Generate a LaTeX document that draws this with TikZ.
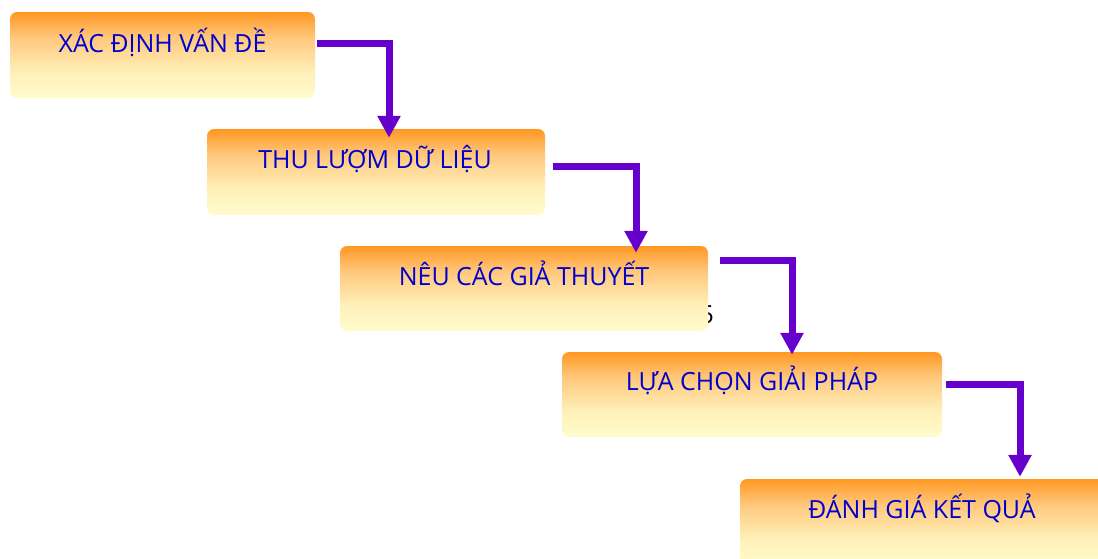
\documentclass[tikz,border=0pt]{standalone}
\usepackage{fontspec}
\setmainfont{Open Sans}
\usetikzlibrary{arrows.meta}
\definecolor{orng}{RGB}{255,152,34}
\definecolor{omid}{RGB}{255,200,125}
\definecolor{ylow}{RGB}{255,240,185}
\definecolor{lyel}{RGB}{255,252,204}
\definecolor{txtblue}{RGB}{0,0,204}
\definecolor{arrpurple}{RGB}{102,0,204}
\pgfdeclareverticalshading{boxshade}{100bp}{color(0bp)=(lyel); color(25bp)=(lyel); color(40bp)=(ylow); color(60bp)=(omid); color(75bp)=(orng); color(100bp)=(orng)}
\tikzset{
  stepbox/.style={rectangle, rounded corners=7pt, inner sep=0pt, draw=none, shading=boxshade},
  steptext/.style={anchor=base, text=txtblue, font=\fontsize{25}{30}\selectfont, inner sep=0pt},
  flowarrow/.style={draw=arrpurple, line width=7pt, -{Triangle[width=22pt,length=22pt]}}
}
\begin{document}
\begin{tikzpicture}[x=1pt,y=-1pt]
\useasboundingbox (0,0) rectangle (1098,558);
\clip (0,0) rectangle (1098,558);
\node[anchor=base east, inner sep=0pt, font=\fontsize{25}{30}\selectfont] (stray) at (714,323) {5};
\node[stepbox, minimum width=305pt, minimum height=86pt] (b1) at (162.5,55) {};
\node[stepbox, minimum width=338pt, minimum height=86pt] (b2) at (376,172) {};
\node[stepbox, minimum width=368pt, minimum height=85pt] (b3) at (524,288.5) {};
\node[stepbox, minimum width=380pt, minimum height=85pt] (b4) at (752,394.5) {};
\node[stepbox, minimum width=364pt, minimum height=86pt] (b5) at (922,522) {};
\node[steptext] (t1) at (162.5,52) {XÁC ĐỊNH VẤN ĐỀ};
\node[steptext] (t2) at (375,168) {THU LƯỢM DỮ LIỆU};
\node[steptext] (t3) at (524,285) {NÊU CÁC GIẢ THUYẾT};
\node[steptext] (t4) at (752,390) {LỰA CHỌN GIẢI PHÁP};
\node[steptext] (t5) at (922,518) {ĐÁNH GIÁ KẾT QUẢ};
\draw[flowarrow] ([shift={(2,-12)}]b1.east) -| ([shift={(13,9)}]b2.north);
\draw[flowarrow] ([shift={(8,-6)}]b2.east) -| ([shift={(112,7)}]b3.north);
\draw[flowarrow] ([shift={(12,-28.5)}]b3.east) -| ([shift={(40,3)}]b4.north);
\draw[flowarrow] ([shift={(4,-10.5)}]b4.east) -| ([shift={(98,-2)}]b5.north);
\end{tikzpicture}
\end{document}
